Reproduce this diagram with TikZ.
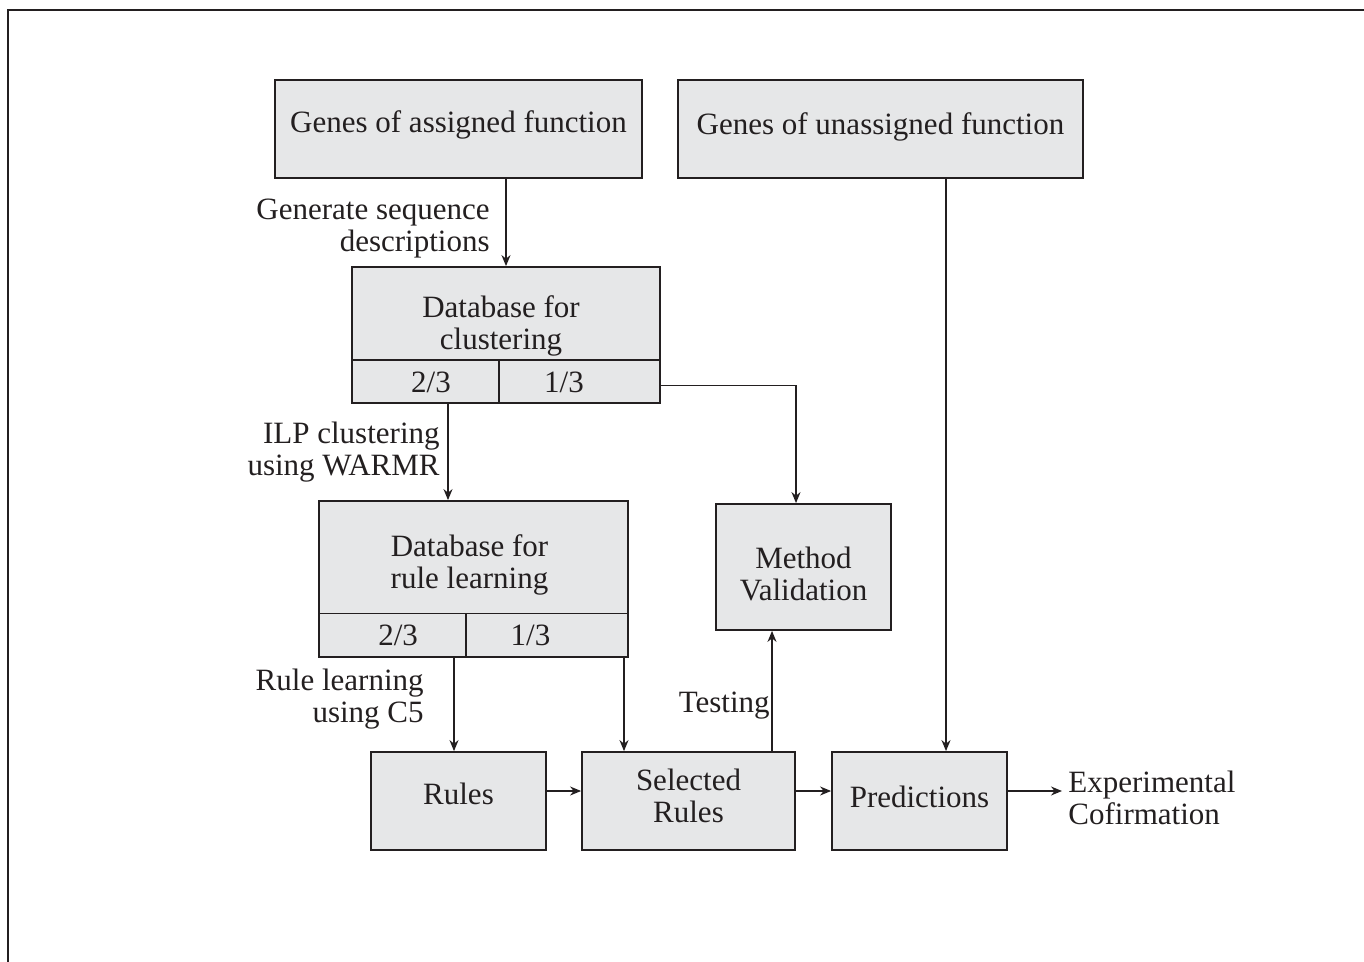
\documentclass[tikz,border=0pt]{standalone}
\usepackage{fontspec}
\setmainfont{Liberation Serif}
\usetikzlibrary{arrows.meta,calc}
\definecolor{boxgray}{HTML}{E6E7E8}
\definecolor{ink}{HTML}{231F20}
\begin{document}
\begin{tikzpicture}[x=0.5pt,y=-0.5pt,
  font=\fontsize{15.5}{16}\selectfont,
  box/.style={draw=ink, fill=boxgray, line width=0.9pt, inner sep=0pt, align=center, text=ink, anchor=base},
  hd/.style 2 args={text height=#1, text depth=#2},
  lbl/.style={inner sep=3pt, text=ink},
  arr/.style={draw=ink, line width=0.7pt, -{Stealth[length=5.5pt,width=4.5pt]}}]
\useasboundingbox (0,0) rectangle (1364,962);
\draw[ink, line width=1pt] (8,962) -- (8,10) -- (1364,10);

\node[box, minimum width=183.5pt, hd={26.5pt}{22.5pt}] (a) at (458.5,133) {Genes of assigned function};
\node[box, minimum width=202.5pt, hd={27.5pt}{21.5pt}] (b) at (880.5,135) {Genes of unassigned function};

\node[box, minimum width=154pt, hd={41.5pt}{5pt}] (d1t) at (506,350) {Database for\hspace*{5pt}\\clustering\hspace*{5pt}};
\node[box, minimum width=73.5pt, hd={16.35pt}{5.15pt}] (d1l) at (425.5,392.7) {\hspace*{5.5pt}2/3};
\node[box, minimum width=80.5pt, hd={16.35pt}{5.15pt}] (d1r) at (579.5,392.7) {1/3\hspace*{15.5pt}};

\node[box, minimum width=154.5pt, hd={43.5pt}{12.75pt}] (d2t) at (473.5,588) {Database for\hspace*{4pt}\\rule learning\hspace*{4pt}};
\node[box, minimum width=73.5pt, hd={16.1pt}{5.65pt}] (d2l) at (392.5,645.7) {\hspace*{5.6pt}2/3};
\node[box, minimum width=81pt, hd={16.1pt}{5.65pt}] (d2r) at (547,645.7) {1/3\hspace*{16.5pt}};

\node[box, minimum width=87.5pt, hd={48.25pt}{14.75pt}] (mv) at (803.5,600.5) {Method\\Validation};

\node[box, minimum width=87.5pt, hd={26pt}{23pt}] (rules) at (458.5,804) {Rules};
\node[box, minimum width=106.5pt, hd={35pt}{14pt}] (sel) at (688.5,822) {Selected\\Rules};
\node[box, minimum width=87.5pt, hd={27.5pt}{21.5pt}] (pred) at (919.5,807) {Predictions};

\node[lbl, anchor=west, align=left] (exp) at (1062,798) {Experimental\\Cofirmation};
\node[lbl, anchor=east, align=right] (l1) at (496,229) {Generate sequence\\descriptions};
\node[lbl, anchor=east, align=right] (l2) at (446,452) {ILP clustering\\using WARMR};
\node[lbl, anchor=east, align=right] (l3) at (430,699) {Rule learning\\using C5};
\node[lbl, anchor=east] (l4) at (776,706) {Testing};

\draw[arr] (a.south -| d1t.north) -- (d1t.north);
\draw[arr] ([xshift=13.25pt]pred.north |- b.south) -- ([xshift=13.25pt]pred.north);
\draw[arr] ([xshift=-12.75pt]d2t.north |- d1l.south) -- ([xshift=-12.75pt]d2t.north);
\draw[arr] ([yshift=-2pt]d1r.east) -| ([xshift=-3.75pt]mv.north);
\draw[arr] ([xshift=-2.25pt]rules.north |- d2l.south) -- ([xshift=-2.25pt]rules.north);
\draw[arr] ([xshift=-32.25pt]sel.north |- d2r.south) -- ([xshift=-32.25pt]sel.north);
\draw[arr] ([xshift=41.75pt]sel.north) -- ([xshift=41.75pt]sel.north |- mv.south);
\draw[arr] ([yshift=5pt]rules.east) -- ([yshift=5pt]sel.west);
\draw[arr] ([yshift=5pt]sel.east) -- ([yshift=5pt]pred.west);
\draw[arr] ([yshift=5pt]pred.east) -- ([yshift=5pt]pred.east -| exp.west);
\end{tikzpicture}
\end{document}
